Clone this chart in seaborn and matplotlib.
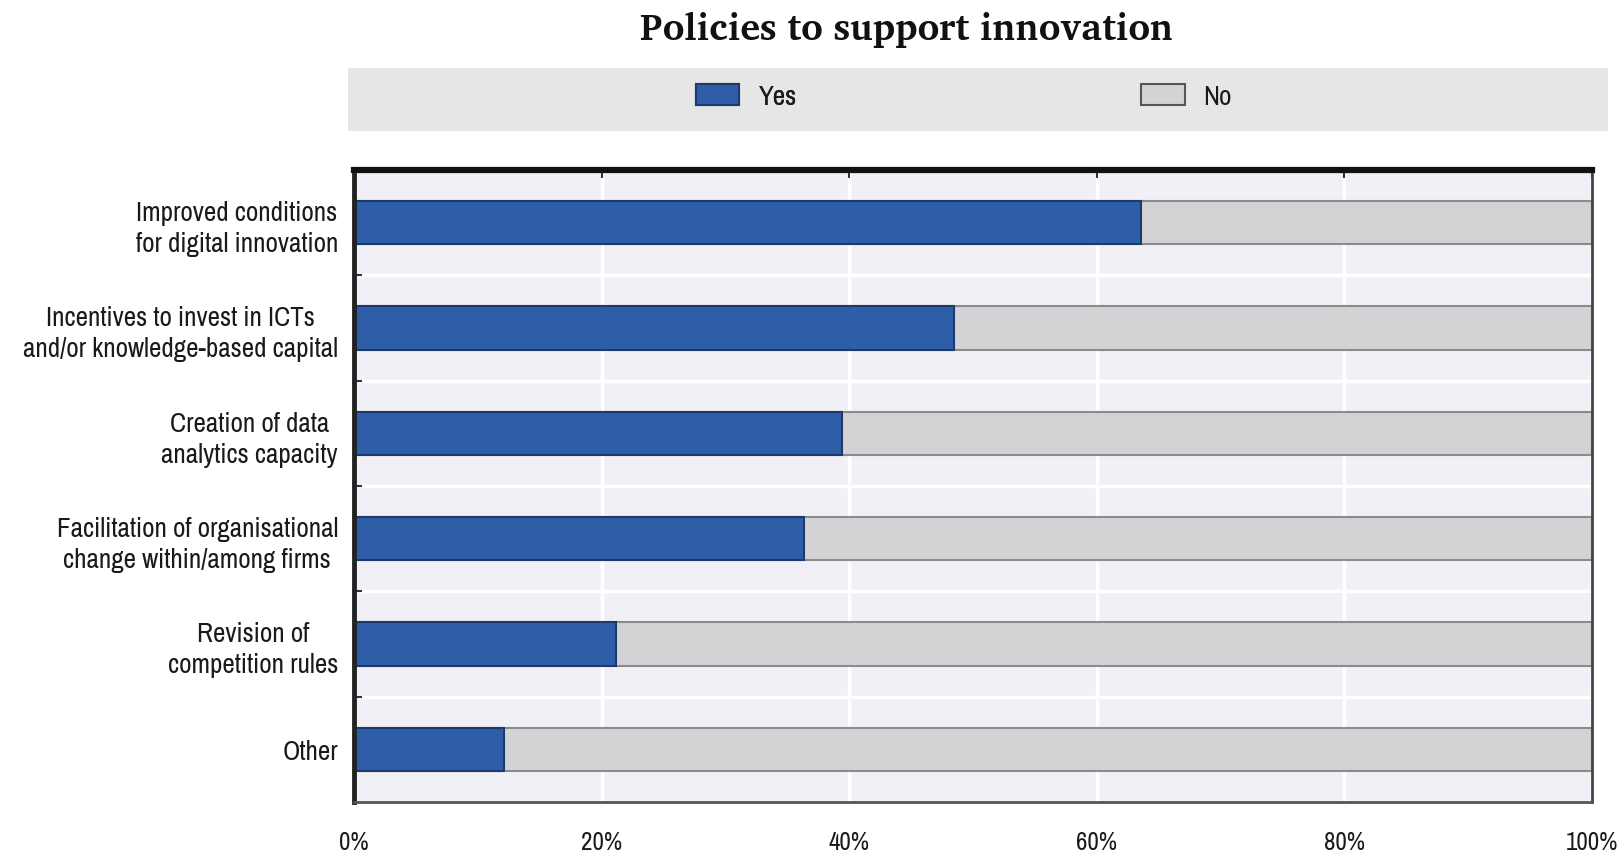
import matplotlib
matplotlib.use("Agg")
import matplotlib.pyplot as plt
from matplotlib.patches import Rectangle, Patch
from matplotlib import font_manager as fm
import seaborn as sns
import pandas as pd
import numpy as np

categories = [
    "Improved conditions\nfor digital innovation",
    "Incentives to invest in ICTs\nand/or knowledge-based capital",
    "Creation of data\nanalytics capacity",
    "Facilitation of organisational\nchange within/among firms",
    "Revision of\ncompetition rules",
    "Other",
]
yes_pct = [63.6, 48.5, 39.4, 36.4, 21.2, 12.1]
no_pct = [36.4, 51.5, 60.6, 63.6, 78.8, 87.9]
x_ticks = [0, 20, 40, 60, 80, 100]
x_ticklabels = ["0%", "20%", "40%", "60%", "80%", "100%"]
title = "Policies to support innovation"

YES_COLOR = "#2f5ea8"
YES_EDGE = "#1c3a6c"
NO_COLOR = "#d3d3d5"
NO_EDGE = "#8c8c8c"

sns.set_style("white")
installed = {f.name for f in fm.fontManager.ttflist}
bold_installed = {f.name for f in fm.fontManager.ttflist
                  if (f.weight if isinstance(f.weight, int) else 400) >= 700 and f.style == "normal"}
prefs = ["Liberation Sans Narrow", "Arial Narrow", "Archivo Narrow", "PT Sans Narrow",
         "Roboto Condensed", "IBM Plex Sans Condensed", "Fira Sans Condensed",
         "Asap Condensed", "Liberation Sans"]
narrow = [f for f in prefs if f in installed][:1] + ["DejaVu Sans"]
serif_prefs = ["Gelasio", "Charis SIL", "PT Serif", "Noto Serif", "Merriweather",
               "Source Serif 4", "Liberation Serif"]
serif = [f for f in serif_prefs if f in bold_installed][:1] + ["DejaVu Serif"]
plt.rcParams["font.family"] = narrow
plt.rcParams["text.color"] = "#1a1a1a"

df = pd.DataFrame({"category": categories, "Yes": yes_pct, "No": no_pct})
df["total"] = df["Yes"] + df["No"]

fig = plt.figure(figsize=(16.24, 8.53), dpi=100)
ax = fig.add_axes([0.218, 0.0586, 0.762, 0.741])
ax.set_facecolor("#f0f0f6")

sns.barplot(data=df, x="total", y="category", orient="h", color=NO_COLOR,
            edgecolor=NO_EDGE, linewidth=1.5, width=0.41, ax=ax, saturation=1, zorder=3)
sns.barplot(data=df, x="Yes", y="category", orient="h", color=YES_COLOR,
            edgecolor=YES_EDGE, linewidth=1.5, width=0.41, ax=ax, saturation=1, zorder=4)

ax.set_xlim(0, 100)
ax.set_ylim(5.5, -0.5)
ax.set_xlabel("")
ax.set_ylabel("")

ax.set_xticks(x_ticks)
ax.set_xticklabels(x_ticklabels, fontsize=18, color="#1a1a1a")
ax.tick_params(axis="x", bottom=False, top=True, direction="in", length=6,
               width=1.5, color="#333333", labelbottom=True, pad=20)
ax.xaxis.grid(True, color="white", linewidth=2.5, zorder=1)
ax.set_axisbelow(True)

ax.set_yticks(range(len(categories)))
ax.set_yticklabels(categories, fontsize=19.5, multialignment="center", linespacing=1.3,
                   color="#1a1a1a")
ax.tick_params(axis="y", which="major", left=False, pad=8)
ax.set_yticks(np.arange(0.5, len(categories) - 0.5, 1), minor=True)
ax.tick_params(axis="y", which="minor", left=True, direction="in", length=6,
               width=1.5, color="#333333")
ax.yaxis.grid(True, which="minor", color="white", linewidth=2.5, zorder=1)

for side, lw, col in [("top", 4.5, "#111111"), ("left", 3.5, "#222222"),
                      ("right", 2.0, "#444444"), ("bottom", 2.0, "#555555")]:
    ax.spines[side].set_visible(True)
    ax.spines[side].set_linewidth(lw)
    ax.spines[side].set_color(col)
    ax.spines[side].set_zorder(6)

t = fig.text(0.558, 0.965, title, ha="center", va="center",
             fontsize=22, fontweight="bold", family=serif, color="#111111")
fig.canvas.draw()
w = t.get_window_extent(renderer=fig.canvas.get_renderer()).width
t.set_fontsize(22 * 533.0 / w)

fig.patches.append(Rectangle((0.2143, 0.8453), 0.7759, 0.0737, transform=fig.transFigure,
                             facecolor="#e6e6e6", edgecolor="none", zorder=0))
leg_yes = fig.legend(handles=[Patch(facecolor=YES_COLOR, edgecolor=YES_EDGE, linewidth=1.5,
                                    label="Yes")],
                     loc="center left", bbox_to_anchor=(0.4286, 0.886), frameon=False,
                     fontsize=19.5, handlelength=1.6, handleheight=0.8, borderpad=0,
                     borderaxespad=0, handletextpad=0.7)
fig.legend(handles=[Patch(facecolor=NO_COLOR, edgecolor="#555555", linewidth=1.5, label="No")],
           loc="center left", bbox_to_anchor=(0.7027, 0.886), frameon=False,
           fontsize=19.5, handlelength=1.6, handleheight=0.8, borderpad=0,
           borderaxespad=0, handletextpad=0.7)
fig.add_artist(leg_yes)

fig.savefig("out.png", dpi=100)
